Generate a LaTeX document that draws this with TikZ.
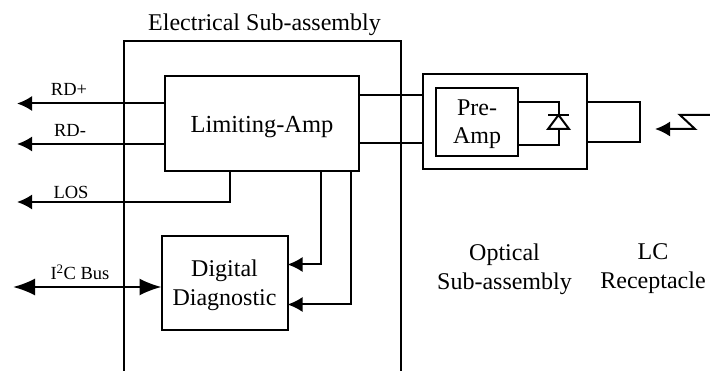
\documentclass[tikz,border=0pt]{standalone}
\usepackage{fontspec}
\setmainfont{Liberation Serif}
\usetikzlibrary{arrows.meta, positioning}
\tikzset{
  block/.style={draw, line width=2pt, minimum width=#1, inner sep=0pt, outer sep=0pt, align=center},
  wire/.style={line width=2pt},
  sig/.style={line width=2pt, -{Latex[length=15pt,width=15pt]}},
  bus/.style={line width=2pt, {Latex[length=22pt,width=17pt]}-{Latex[length=22pt,width=17pt]}},
  biglabel/.style={font=\fontsize{24}{29}\selectfont, align=center, inner sep=0pt},
  smalllabel/.style={font=\fontsize{18.5}{20}\selectfont, inner sep=0pt},
}
\begin{document}
\begin{tikzpicture}[x=1pt, y=-1pt]
   \useasboundingbox (0,0) rectangle (710,371);
   % outer housing, open at the bottom
   \coordinate (elecbl) at (124,371);
   \coordinate (elecbr) at (401,371);
   \draw[wire] (elecbl) -- (124,41.5) -- (401,41.5) -- (elecbr);
   \node[biglabel] (elec) at (264.5,25) {Electrical Sub-assembly};

   % blocks
   \node[block=194pt, minimum height=95pt, text height=21.5pt, font=\fontsize{24.5}{29}\selectfont] (amp) at (262,124) {Limiting-Amp};
   \node[block=126pt, minimum height=94pt, text height=49pt, font=\fontsize{24}{29}\selectfont] (diag) at (224.5,283.5) {Digital\\Diagnostic};
   \node[block=164pt, minimum height=95pt] (osa) at (504.5,121.5) {};
   \node[block=82pt, minimum height=68pt, text height=48pt, font=\fontsize{24}{28}\selectfont] (pre) at (477,122) {Pre-\\Amp};

   % free ends on the host side
   \coordinate (rdpend) at (17,103.5);
   \coordinate (rdmend) at (17,144);
   \coordinate (losend) at (17,202);
   \coordinate (busend) at (13,287);
   \draw[sig] (amp.west |- rdpend) -- (rdpend);
   \draw[sig] (amp.west |- rdmend) -- (rdmend);
   \coordinate (losout) at (230,171.5);
   \draw[sig] (losout) |- (losend);
   \draw[bus] (busend) -- (diag.west |- busend);
   \node[smalllabel] (rdp) at (69,89) {RD+};
   \node[smalllabel] (rdm) at (70,130) {RD-};
   \node[smalllabel] (los) at (71,192) {LOS};
   \node[smalllabel] (bus) at (80,272) {I\textsuperscript{2}C Bus};

   % amp to diagnostics
   \coordinate (mona) at (320.5,171.5);
   \coordinate (monb) at (350.5,171.5);
   \coordinate (diaga) at (diag.east |- 0,264.5);
   \coordinate (diagb) at (diag.east |- 0,304.5);
   \draw[sig] (mona) |- (diaga);
   \draw[sig] (monb) |- (diagb);

   % amp to optical part
   \draw[wire] (amp.east |- 0,95.5) -- (osa.west |- 0,95.5);
   \draw[wire] (amp.east |- 0,143) -- (osa.west |- 0,143);

   % photodiode
   \coordinate (pdtop) at (558.5,115);
   \coordinate (pdbot) at (558.5,129);
   \draw[wire] (pre.east |- 0,102) -| (pdtop);
   \draw[wire] (pre.east |- 0,145) -| (pdbot);
   \draw[wire] (548,115) -- (569,115);
   \draw[wire, line join=miter] (pdtop) -- (569,129) -- (548,129) -- cycle;

   % receptacle
   \coordinate (rcpcorner) at (640,102);
   \coordinate (rcplow) at (640,142);
   \draw[wire] (osa.east |- rcpcorner) -- (rcpcorner) -- (rcplow) -- (osa.east |- rcplow);

   % incoming light
   \coordinate (lightin) at (710,115);
   \coordinate (lighttip) at (655,129);
   \draw[sig] (lightin) -- (680,115) -- (695,129) -- (lighttip);

   \node[biglabel] (optical) at (504.5,269) {Optical\\Sub-assembly};
   \node[biglabel] (lc) at (653,269) {LC\\Receptacle};
\end{tikzpicture}
\end{document}
